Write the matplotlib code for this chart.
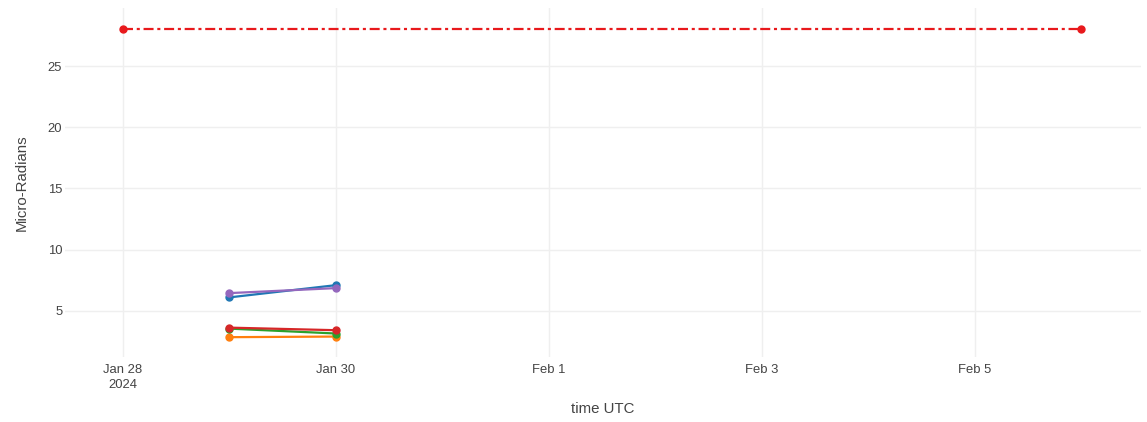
import matplotlib
matplotlib.use("Agg")
import matplotlib.pyplot as plt
import matplotlib.dates as mdates
import numpy as np
from datetime import datetime, timedelta

# Data
dates = [datetime(2024, 1, 29), datetime(2024, 1, 30)]
series_names = ["S1", "S2", "S3", "S4", "S5"]
series_values = {
    "S1": [6.1, 7.1],    # blue
    "S2": [2.85, 2.9],   # orange
    "S3": [3.55, 3.15],  # green
    "S4": [3.63, 3.42],  # red
    "S5": [6.45, 6.86],  # purple
}
series_colors = {
    "S1": "#1f77b4",
    "S2": "#ff7f0e",
    "S3": "#2ca02c",
    "S4": "#d62728",
    "S5": "#9467bd",
}
threshold_dates = [datetime(2024, 1, 28), datetime(2024, 2, 6)]
threshold_values = [28, 28]

tick_dates = [datetime(2024, 1, 28), datetime(2024, 1, 30), datetime(2024, 2, 1),
              datetime(2024, 2, 3), datetime(2024, 2, 5)]
tick_labels = ["Jan 28\n2024", "Jan 30", "Feb 1", "Feb 3", "Feb 5"]
y_ticks = [5, 10, 15, 20, 25]

plt.rcParams['font.family'] = ['Liberation Sans', 'DejaVu Sans']

W, H = 1147, 422
fig = plt.figure(figsize=(W / 100, H / 100), dpi=100)
ax = fig.add_axes([65 / W, 65 / H, (1141 - 65) / W, (357 - 8) / H])

txt = "#444444"
grid = "#efefef"

lw = 1.6
ax.plot(threshold_dates, threshold_values, color="#e8191c", lw=lw,
        linestyle=(0, (7.2 / lw, 2.7 / lw, 2.2 / lw, 2.7 / lw)),
        marker="o", markersize=5, zorder=3)

for name in series_names:
    ax.plot(dates, series_values[name], color=series_colors[name], lw=lw,
            marker="o", markersize=5, zorder=3)

x0 = mdates.date2num(datetime(2024, 1, 28)) - 0.542
x1 = mdates.date2num(datetime(2024, 2, 6)) + 0.56
ax.set_xlim(x0, x1)
ax.set_ylim(1.23, 29.75)

ax.set_xticks([mdates.date2num(d) for d in tick_dates])
ax.set_xticklabels(tick_labels, color=txt, fontsize=9.4, linespacing=1.35)
ax.set_yticks(y_ticks)
ax.set_yticklabels([str(v) for v in y_ticks], color=txt, fontsize=9.4)
ax.tick_params(axis="both", length=0)
ax.tick_params(axis="x", pad=5)
ax.tick_params(axis="y", pad=2)

ax.grid(True, color=grid, lw=1)
ax.set_axisbelow(True)
for s in ax.spines.values():
    s.set_visible(False)

ax.set_xlabel("time UTC", color=txt, fontsize=10.8, labelpad=8)
ax.set_ylabel("Micro-Radians", color=txt, fontsize=10.8, labelpad=14)

fig.savefig("out.png", dpi=100, facecolor="white")
